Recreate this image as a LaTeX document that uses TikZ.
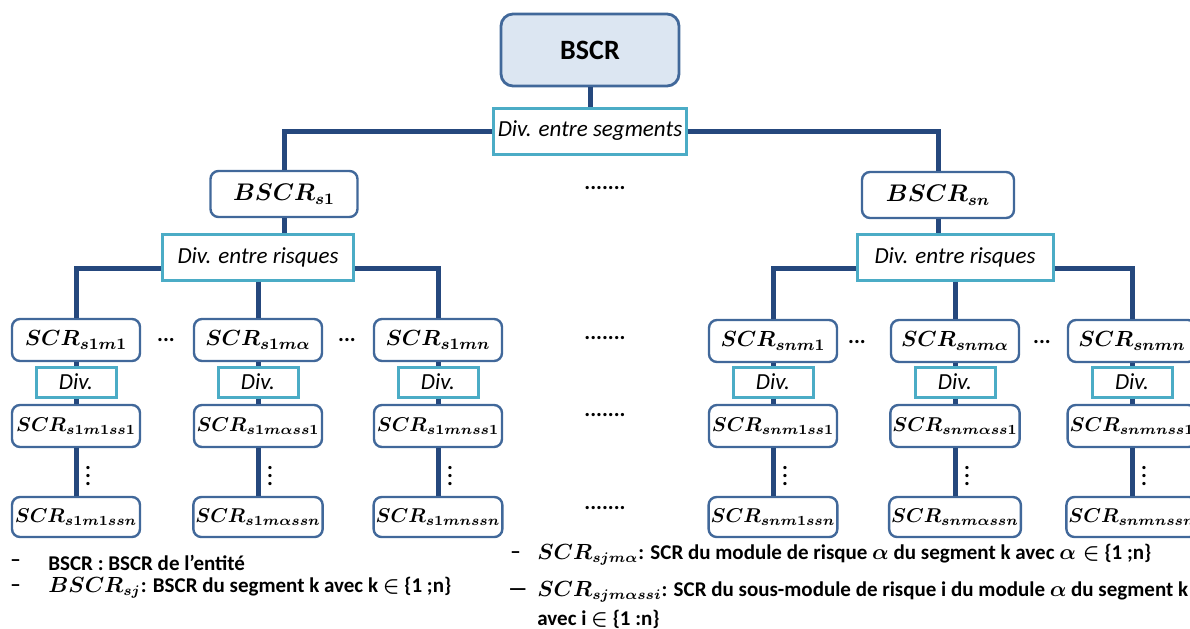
\documentclass[tikz,border=0pt]{standalone}
\usepackage{amsmath}
\usepackage{fontspec}
\setmainfont{Carlito}
\usepackage{xcolor}
\usepackage{tikz}
\usetikzlibrary{positioning}
\definecolor{bleulien}{HTML}{25487D}
\definecolor{bleubord}{HTML}{41689A}
\definecolor{bleufond}{HTML}{DCE6F2}
\definecolor{turq}{HTML}{4BACC6}
\newcommand{\formule}[1]{{\fontsize{10.5}{11}\selectfont$\boldsymbol{#1}$}}

\begin{document}
\begin{tikzpicture}[x=0.5pt, y=-0.5pt]
\tikzset{
    racine/.style = {rectangle, rounded corners=6pt, draw=bleubord, line width=1.4pt, fill=bleufond, minimum width=89pt, minimum height=36pt, font=\fontsize{14}{16}\selectfont\bfseries},
    boite/.style = {rectangle, rounded corners=4pt, draw=bleubord, line width=1.2pt, fill=white, minimum width=64pt, minimum height=21pt, inner sep=1pt, font=\fontsize{10.8}{12}\selectfont\boldmath},
    sousboite/.style = {boite, font=\fontsize{9.6}{12}\selectfont\boldmath},
    grandeboite/.style = {boite, minimum height=23pt, font=\fontsize{11.5}{14}\selectfont\boldmath},
    divi/.style = {rectangle, draw=turq, line width=1.5pt, fill=white, minimum height=23pt, inner sep=2pt, font=\fontsize{11.5}{13}\selectfont\itshape},
    petitdiv/.style = {divi, minimum width=40pt, minimum height=15pt, inner sep=1pt},
    lien/.style = {draw=bleulien, line width=2.5pt},
    points/.style = {inner sep=0pt, font=\fontsize{11}{13}\selectfont\bfseries\boldmath},
    legende/.style = {anchor=west, inner sep=0pt, font=\fontsize{10.5}{12}\selectfont\bfseries\boldmath},
}
\useasboundingbox (0,0) rectangle (1190,628);

% haut de l'arbre
\node (bscr) [racine] at (590,50) {BSCR};
\node (divseg) [divi, minimum width=96pt] at (590,131) {Div. entre segments};
\node (bs1) [grandeboite, minimum width=73.5pt] at (284,194) {$BSCR_{s1}$};
\node (bsn) [grandeboite, minimum width=76pt] at (938,195) {$BSCR_{sn}$};
\node (divr1) [divi, minimum width=95.5pt] at (258,257) {Div. entre risques};
\node (divrn) [divi, minimum width=98pt] at (955,257) {Div. entre risques};

\draw[lien] (bscr) -- (divseg);
\draw[lien] (divseg.west) -| (bs1);
\draw[lien] (divseg.east) -| (bsn);
\draw[lien] (bs1.south) -- (bs1.south |- divr1.north);
\draw[lien] (bsn.south) -- (bsn.south |- divrn.north);

% segment 1
\node (m11) [boite] at (76,340) {$SCR_{s1m1}$};
\node (m1a) [boite] at (258,340) {$SCR_{s1m\alpha}$};
\node (m1n) [boite] at (438,340) {$SCR_{s1mn}$};
\node (d11) [petitdiv] at (76,382) {Div.};
\node (d1a) [petitdiv] at (258,382) {Div.};
\node (d1n) [petitdiv] at (438,382) {Div.};
\node (s11) [sousboite] at (76,426) {$SCR_{s1m1ss1}$};
\node (s1a) [sousboite] at (258,426) {$SCR_{s1m\alpha ss1}$};
\node (s1n) [sousboite] at (438,426) {$SCR_{s1mnss1}$};
\node (n11) [sousboite, minimum height=20pt] at (76,517) {$SCR_{s1m1ssn}$};
\node (n1a) [sousboite, minimum height=20pt] at (258,517) {$SCR_{s1m\alpha ssn}$};
\node (n1n) [sousboite, minimum height=20pt] at (438,517) {$SCR_{s1mnssn}$};

\draw[lien] ([yshift=-5.5pt]divr1.west) -| (m11);
\draw[lien] ([yshift=-5.5pt]divr1.east) -| (m1n);
\draw[lien] (divr1) -- (m1a);
\draw[lien] (m11) -- (d11);
\draw[lien] (d11) -- (s11);
\draw[lien] (s11) -- (n11);
\draw[lien] (m1a) -- (d1a);
\draw[lien] (d1a) -- (s1a);
\draw[lien] (s1a) -- (n1a);
\draw[lien] (m1n) -- (d1n);
\draw[lien] (d1n) -- (s1n);
\draw[lien] (s1n) -- (n1n);

\node (v11) [points] at (88,470) {$\vdots$};
\node (v1a) [points] at (270,470) {$\vdots$};
\node (v1n) [points] at (450,470) {$\vdots$};
\node (e11) [points] at (166,340) {...};
\node (e1a) [points] at (347,340) {...};

% segment n
\node (mn1) [boite] at (773,341) {$SCR_{snm1}$};
\node (mna) [boite] at (955,341) {$SCR_{snm\alpha}$};
\node (mnn) [boite] at (1132,341) {$SCR_{snmn}$};
\node (dn1) [petitdiv] at (773,382) {Div.};
\node (dna) [petitdiv] at (955,382) {Div.};
\node (dnn) [petitdiv] at (1132,382) {Div.};
\node (sn1) [sousboite] at (773,426) {$SCR_{snm1ss1}$};
\node (sna) [sousboite] at (955,426) {$SCR_{snm\alpha ss1}$};
\node (snn) [sousboite] at (1132,426) {$SCR_{snmnss1}$};
\node (nn1) [sousboite, minimum height=20pt] at (773,517) {$SCR_{snm1ssn}$};
\node (nna) [sousboite, minimum height=20pt] at (955,517) {$SCR_{snm\alpha ssn}$};
\node (nnn) [sousboite, minimum height=20pt] at (1132,517) {$SCR_{snmnssn}$};

\draw[lien] ([yshift=-5.5pt]divrn.west) -| (mn1);
\draw[lien] ([yshift=-5.5pt]divrn.east) -| (mnn);
\draw[lien] (divrn) -- (mna);
\draw[lien] (mn1) -- (dn1);
\draw[lien] (dn1) -- (sn1);
\draw[lien] (sn1) -- (nn1);
\draw[lien] (mna) -- (dna);
\draw[lien] (dna) -- (sna);
\draw[lien] (sna) -- (nna);
\draw[lien] (mnn) -- (dnn);
\draw[lien] (dnn) -- (snn);
\draw[lien] (snn) -- (nnn);

\node (vn1) [points] at (785,470) {$\vdots$};
\node (vna) [points] at (967,470) {$\vdots$};
\node (vnn) [points] at (1144,470) {$\vdots$};
\node (en1) [points] at (857,342) {...};
\node (ena) [points] at (1042,342) {...};

% entre les segments
\node (c1) [points] at (605,188) {.......};
\node (c2) [points] at (605,338) {.......};
\node (c3) [points] at (605,415) {.......};
\node (c4) [points] at (605,508) {.......};

% legende
\node (t1) [legende] at (10,563) {–};
\node (l1) [legende] at (48,563) {BSCR : BSCR de l’entité};
\node (t2) [legende] at (10,588) {–};
\node (l2) [legende] at (48,588) {\formule{BSCR_{sj}}: BSCR du segment k avec k $\in$ \{1 ;n\}};
\node (t3) [legende] at (510,555) {–};
\node (l3) [legende] at (537,555) {\formule{SCR_{sjm\alpha}}: SCR du module de risque $\boldsymbol{\alpha}$ du segment k avec $\boldsymbol{\alpha}\in$ \{1 ;n\}};
\node (t4) [legende] at (508,592) {—};
\node (l4) [legende] at (537,592) {\formule{SCR_{sjm\alpha ssi}}: SCR du sous-module de risque i du module $\boldsymbol{\alpha}$ du segment k};
\node (l5) [legende] at (537,619) {avec i $\in$ \{1 :n\}};
\end{tikzpicture}
\end{document}
